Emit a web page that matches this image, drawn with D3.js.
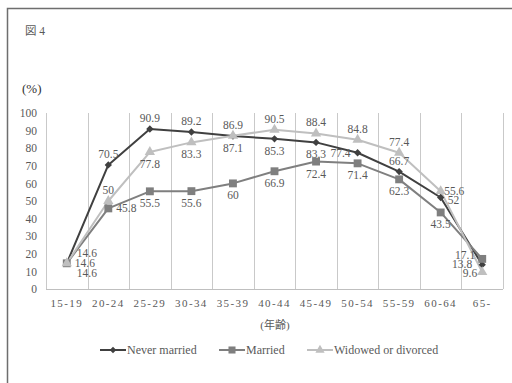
<!DOCTYPE html>
<html>
<head>
<meta charset="utf-8">
<script src="https://cdn.jsdelivr.net/npm/d3@7"></script>
<style>
  html, body { margin: 0; padding: 0; background: #fff; }
  svg { display: block; }
  svg text { font-family: "Liberation Serif", "DejaVu Serif", "Times New Roman", serif; }
  svg text.cjk { font-family: "Liberation Serif", "Noto Sans CJK JP", serif; }
</style>
</head>
<body>
<svg id="chart" width="512" height="383"></svg>
<script>
// Age groups (x categories)
const ageGroups = ["15-19", "20-24", "25-29", "30-34", "35-39", "40-44", "45-49", "50-54", "55-59", "60-64", "65-"];

// Series values (%)
const neverMarried = [14.6, 70.5, 90.9, 89.2, 86.9, 85.3, 83.3, 77.4, 66.7, 52, 13.8];
const married      = [14.6, 45.8, 55.5, 55.6, 60, 66.9, 72.4, 71.4, 62.3, 43.5, 17.1];
const widowed      = [14.6, 50, 77.8, 83.3, 87.1, 90.5, 88.4, 84.8, 77.4, 55.6, 9.6];

// Y axis ticks
const yTicks = [0, 10, 20, 30, 40, 50, 60, 70, 80, 90, 100];

// Data label placement for each point
const neverMarriedLabelPos = ["upright", "above", "above", "above", "above", "below", "below", "left", "above", "lowright", "lowleft"];
const marriedLabelPos      = ["right", "right", "below", "below", "below", "below", "below", "below", "below", "below", "upleft"];
const widowedLabelPos      = ["downright", "above", "below", "below", "below", "above", "above", "above", "above", "nearright", "downleft"];

const series = [
  { name: "Never married", values: neverMarried, pos: neverMarriedLabelPos, color: "#404040", symbol: d3.symbolDiamond2, size: 34 },
  { name: "Married", values: married, pos: marriedLabelPos, color: "#7f7f7f", symbol: d3.symbolSquare, size: 62 },
  { name: "Widowed or divorced", values: widowed, pos: widowedLabelPos, color: "#bfbfbf", symbol: d3.symbolTriangle, size: 46 }
];

const svg = d3.select("#chart");
const textColor = "#595959";

// Outer frame
svg.append("rect")
  .attr("x", 7.5).attr("y", 8.5)
  .attr("width", 520).attr("height", 400)
  .attr("fill", "none").attr("stroke", "#6e6e6e").attr("stroke-width", 1.5);

// Titles
svg.append("text").attr("class", "cjk").attr("x", 25).attr("y", 35)
  .attr("font-size", 11.5)
  .attr("fill", textColor).text("図 4");
svg.append("text").attr("x", 22).attr("y", 93)
  .attr("font-size", 13)
  .attr("fill", "#333").text("(%)");

const plotLeft = 46, plotRight = 503, plotTop = 113, plotBottom = 289;

const x = d3.scaleBand().domain(ageGroups).range([plotLeft, plotRight]).padding(0);
const y = d3.scaleLinear().domain([0, 100]).range([plotBottom, plotTop]);

// Vertical separators between age groups
const bounds = ageGroups.map(a => x(a)).concat([plotRight]);
svg.append("g").selectAll("line").data(bounds).join("line")
  .attr("x1", d => Math.round(d) + 0.5).attr("x2", d => Math.round(d) + 0.5)
  .attr("y1", plotTop).attr("y2", plotBottom)
  .attr("stroke", "#c9c9c9").attr("stroke-width", 1);

// Baseline
svg.append("line")
  .attr("x1", plotLeft).attr("x2", plotRight)
  .attr("y1", plotBottom + 0.5).attr("y2", plotBottom + 0.5)
  .attr("stroke", "#bfbfbf").attr("stroke-width", 1);

// Y axis labels
const yAxis = d3.axisLeft(y).tickValues(yTicks).tickSize(0).tickPadding(0);
const gy = svg.append("g").attr("transform", `translate(${plotLeft - 9},0)`).call(yAxis);
gy.select(".domain").remove();
gy.attr("font-family", null);
gy.selectAll("text")
  .attr("font-size", 11.5).attr("fill", textColor);

// X axis labels
const xAxis = d3.axisBottom(x).tickSize(0).tickPadding(0);
const gx = svg.append("g").attr("transform", `translate(0,${plotBottom + 8})`).call(xAxis);
gx.select(".domain").remove();
gx.attr("font-family", null);
gx.selectAll("text")
  .attr("font-size", 11).attr("fill", textColor)
  .attr("letter-spacing", "1.4px").attr("dy", "0.9em");

svg.append("text").attr("class", "cjk").attr("x", 275).attr("y", 329)
  .attr("text-anchor", "middle")
  .attr("font-size", 11)
  .attr("fill", textColor).text("(年齢)");

const cx = a => x(a) + x.bandwidth() / 2;

const line = d3.line()
  .x((d, i) => cx(ageGroups[i]))
  .y(d => y(d));

// Lines
series.forEach(s => {
  svg.append("path").datum(s.values)
    .attr("d", line)
    .attr("fill", "none").attr("stroke", s.color).attr("stroke-width", 2)
    .attr("stroke-linejoin", "round");
});

// Markers
series.forEach(s => {
  svg.append("g").selectAll("path").data(s.values).join("path")
    .attr("transform", (d, i) => `translate(${cx(ageGroups[i])},${y(d)})`)
    .attr("d", d3.symbol().type(s.symbol).size(s.size))
    .attr("fill", s.color);
});

// Data labels
const placement = {
  above:     { dx: 0,   dy: -7,  anchor: "middle" },
  below:     { dx: 0,   dy: 16,  anchor: "middle" },
  left:      { dx: -7,  dy: 4,   anchor: "end" },
  right:     { dx: 8,   dy: 4,   anchor: "start" },
  upright:   { dx: 10,  dy: -6,  anchor: "start" },
  downright: { dx: 10,  dy: 14,  anchor: "start" },
  lowright:  { dx: 7,   dy: 6.5, anchor: "start" },
  nearright: { dx: 3.5, dy: 4,   anchor: "start" },
  upleft:    { dx: -7,  dy: 0,   anchor: "end" },
  lowleft:   { dx: -10, dy: 3.5, anchor: "end" },
  downleft:  { dx: -5,  dy: 5,   anchor: "end" }
};
series.forEach(s => {
  svg.append("g").selectAll("text").data(s.values).join("text")
    .attr("x", (d, i) => cx(ageGroups[i]) + placement[s.pos[i]].dx)
    .attr("y", (d, i) => y(d) + placement[s.pos[i]].dy)
    .attr("text-anchor", (d, i) => placement[s.pos[i]].anchor)
    .attr("font-size", 11.5)
    .attr("fill", textColor)
    .text(d => d);
});

// Legend
const legendItems = [
  { s: series[0], x: 100 },
  { s: series[1], x: 219 },
  { s: series[2], x: 307 }
];
const lg = svg.append("g");
legendItems.forEach(({ s, x: lx }) => {
  const ly = 350;
  lg.append("line").attr("x1", lx).attr("x2", lx + 26)
    .attr("y1", ly).attr("y2", ly)
    .attr("stroke", s.color).attr("stroke-width", 2);
  lg.append("path").attr("transform", `translate(${lx + 13},${ly})`)
    .attr("d", d3.symbol().type(s.symbol).size(s.size * 0.8))
    .attr("fill", s.color);
  lg.append("text").attr("x", lx + 27).attr("y", ly + 4)
    .attr("font-size", 12)
    .attr("fill", textColor).text(s.name);
});
</script>
</body>
</html>
